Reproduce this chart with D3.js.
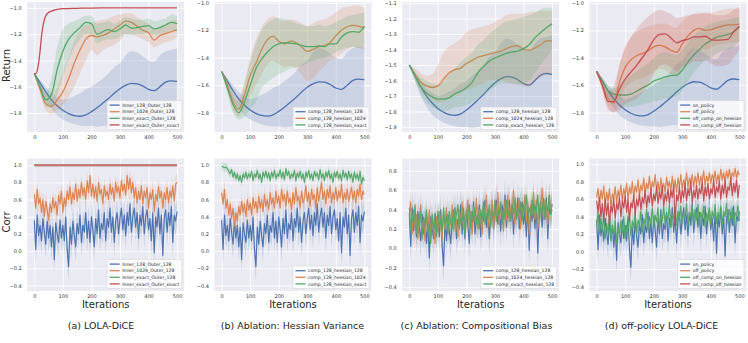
<!DOCTYPE html>
<html lang="en">
<head>
<meta charset="UTF-8">
<title>LOLA-DiCE ablations</title>
<script src="https://d3js.org/d3.v7.min.js"></script>
<style>
  body { margin: 0; background: #fff; }
  svg { display: block; font-family: "DejaVu Sans", sans-serif; }
  .leg-text { font-size: 4.6px; fill: #262626; }
  .axis-title { font-size: 10px; fill: #262626; }
  .caption { font-size: 9.5px; fill: #222; }
</style>
</head>
<body>
<script>
// ---- shared axes ----
const xTicks = [0, 100, 200, 300, 400, 500];
const retTicks = [-1.0, -1.2, -1.4, -1.6, -1.8];
const retTicksC = [-1.1, -1.2, -1.3, -1.4, -1.5, -1.6, -1.7, -1.8, -1.9];
const corrTicks = [-0.4, -0.2, 0.0, 0.2, 0.4, 0.6, 0.8, 1.0];
const corrTicksC = [-0.4, -0.2, 0.0, 0.2, 0.4, 0.6, 0.8];

const palette = ["#4c72b0", "#dd8452", "#55a868", "#c44e52"];

const labelsA = ["Inner_128_Outer_128", "Inner_1024_Outer_128", "Inner_exact_Outer_128", "Inner_exact_Outer_exact"];
const labelsB = ["comp_128_hessian_128", "comp_128_hessian_1024", "comp_128_hessian_exact"];
const labelsC = ["comp_128_hessian_128", "comp_1024_hessian_128", "comp_exact_hessian_128"];
const labelsD = ["on_policy", "off_policy", "off_comp_on_hessian", "on_comp_off_hessian"];
const captions = ["(a) LOLA-DiCE", "(b) Ablation: Hessian Variance", "(c) Ablation: Compositional Bias", "(d) off-policy LOLA-DiCE"];

// ---- return curves (every 20 iterations) ----
const iters = [0, 20, 40, 60, 80, 100, 120, 140, 160, 180, 200, 220, 240, 260, 280, 300, 320, 340, 360, 380, 400, 420, 440, 460, 480, 500];

const retBlue   = [-1.50,-1.57,-1.64,-1.70,-1.745,-1.78,-1.805,-1.82,-1.825,-1.815,-1.79,-1.76,-1.725,-1.69,-1.65,-1.615,-1.59,-1.575,-1.578,-1.595,-1.62,-1.63,-1.60,-1.565,-1.555,-1.56];
const retBlueLo = [-1.5,-1.6,-1.7,-1.77,-1.82,-1.85,-1.87,-1.885,-1.895,-1.9,-1.9,-1.905,-1.9,-1.895,-1.89,-1.885,-1.88,-1.885,-1.89,-1.9,-1.905,-1.9,-1.895,-1.89,-1.885,-1.89];
const retBlueHi = [-1.5,-1.55,-1.6,-1.65,-1.68,-1.7,-1.69,-1.67,-1.65,-1.62,-1.6,-1.57,-1.54,-1.5,-1.45,-1.42,-1.36,-1.33,-1.34,-1.37,-1.40,-1.41,-1.36,-1.33,-1.32,-1.31];

const retA1024   = [-1.5,-1.62,-1.73,-1.75,-1.70,-1.64,-1.54,-1.42,-1.32,-1.24,-1.21,-1.22,-1.21,-1.19,-1.16,-1.13,-1.10,-1.11,-1.14,-1.17,-1.19,-1.245,-1.21,-1.195,-1.18,-1.165];
const retA1024Lo = [-1.5,-1.65,-1.78,-1.81,-1.78,-1.74,-1.68,-1.6,-1.5,-1.4,-1.32,-1.36,-1.32,-1.3,-1.28,-1.25,-1.2,-1.2,-1.22,-1.24,-1.26,-1.3,-1.28,-1.26,-1.25,-1.22];
const retA1024Hi = [-1.5,-1.58,-1.66,-1.68,-1.6,-1.5,-1.38,-1.25,-1.17,-1.13,-1.12,-1.1,-1.09,-1.08,-1.06,-1.05,-1.04,-1.04,-1.07,-1.1,-1.12,-1.16,-1.14,-1.12,-1.1,-1.09];

const retAExact   = [-1.5,-1.6,-1.7,-1.66,-1.47,-1.33,-1.24,-1.19,-1.15,-1.11,-1.12,-1.2,-1.18,-1.165,-1.18,-1.16,-1.13,-1.155,-1.15,-1.14,-1.135,-1.16,-1.15,-1.13,-1.11,-1.12];
const retAExactLo = [-1.5,-1.63,-1.75,-1.76,-1.66,-1.52,-1.4,-1.3,-1.24,-1.2,-1.2,-1.27,-1.25,-1.24,-1.24,-1.22,-1.2,-1.21,-1.2,-1.2,-1.19,-1.21,-1.2,-1.19,-1.17,-1.18];
const retAExactHi = [-1.5,-1.57,-1.64,-1.54,-1.3,-1.16,-1.12,-1.1,-1.08,-1.06,-1.06,-1.12,-1.11,-1.1,-1.12,-1.1,-1.07,-1.08,-1.09,-1.09,-1.08,-1.1,-1.09,-1.08,-1.05,-1.06];

const redIters = [0, 5, 10, 15, 20, 25, 30, 35, 40, 50, 60, 80, 100, 150, 200, 300, 400, 500];
const retAExactExact = [-1.5,-1.5,-1.48,-1.42,-1.33,-1.22,-1.14,-1.09,-1.06,-1.035,-1.025,-1.012,-1.006,-1.003,-1.001,-1.0,-1.0,-1.0];

const retB1024   = [-1.5,-1.6,-1.72,-1.775,-1.67,-1.53,-1.44,-1.34,-1.27,-1.245,-1.28,-1.3,-1.28,-1.29,-1.32,-1.355,-1.34,-1.32,-1.31,-1.29,-1.24,-1.2,-1.175,-1.165,-1.17,-1.185];
const retB1024Lo = [-1.5,-1.64,-1.78,-1.83,-1.77,-1.68,-1.6,-1.52,-1.45,-1.42,-1.45,-1.47,-1.46,-1.48,-1.52,-1.57,-1.55,-1.5,-1.46,-1.42,-1.4,-1.37,-1.34,-1.32,-1.33,-1.34];
const retB1024Hi = [-1.5,-1.56,-1.65,-1.7,-1.57,-1.4,-1.27,-1.18,-1.12,-1.1,-1.12,-1.13,-1.12,-1.13,-1.15,-1.17,-1.15,-1.13,-1.12,-1.1,-1.07,-1.04,-1.03,-1.02,-1.02,-1.04];

const retBExact   = [-1.5,-1.62,-1.74,-1.8,-1.72,-1.6,-1.48,-1.41,-1.36,-1.32,-1.3,-1.29,-1.295,-1.3,-1.31,-1.32,-1.32,-1.315,-1.32,-1.3,-1.3,-1.25,-1.22,-1.21,-1.215,-1.17];
const retBExactLo = [-1.5,-1.66,-1.8,-1.85,-1.83,-1.77,-1.72,-1.62,-1.58,-1.55,-1.52,-1.5,-1.48,-1.47,-1.46,-1.44,-1.42,-1.41,-1.4,-1.38,-1.36,-1.34,-1.33,-1.32,-1.33,-1.3];
const retBExactHi = [-1.5,-1.58,-1.68,-1.72,-1.6,-1.43,-1.3,-1.2,-1.15,-1.12,-1.11,-1.12,-1.13,-1.15,-1.16,-1.17,-1.17,-1.16,-1.17,-1.16,-1.14,-1.12,-1.1,-1.09,-1.08,-1.07];

const retC1024   = [-1.5,-1.56,-1.61,-1.635,-1.645,-1.635,-1.59,-1.55,-1.53,-1.52,-1.49,-1.47,-1.45,-1.44,-1.43,-1.42,-1.41,-1.395,-1.38,-1.375,-1.4,-1.405,-1.39,-1.37,-1.345,-1.345];
const retC1024Lo = [-1.5,-1.6,-1.66,-1.7,-1.72,-1.74,-1.73,-1.72,-1.7,-1.68,-1.66,-1.65,-1.63,-1.62,-1.6,-1.6,-1.6,-1.61,-1.62,-1.62,-1.64,-1.64,-1.6,-1.58,-1.56,-1.55];
const retC1024Hi = [-1.5,-1.52,-1.55,-1.57,-1.56,-1.5,-1.42,-1.38,-1.36,-1.33,-1.29,-1.27,-1.26,-1.25,-1.24,-1.22,-1.2,-1.18,-1.17,-1.17,-1.17,-1.16,-1.16,-1.15,-1.15,-1.15];

const retCExact   = [-1.5,-1.57,-1.64,-1.68,-1.705,-1.72,-1.72,-1.71,-1.685,-1.67,-1.645,-1.61,-1.55,-1.51,-1.475,-1.455,-1.44,-1.425,-1.415,-1.41,-1.395,-1.37,-1.325,-1.29,-1.26,-1.235];
const retCExactLo = [-1.5,-1.6,-1.69,-1.74,-1.77,-1.79,-1.8,-1.79,-1.77,-1.77,-1.76,-1.74,-1.72,-1.69,-1.66,-1.64,-1.62,-1.62,-1.62,-1.63,-1.62,-1.6,-1.55,-1.5,-1.45,-1.4];
const retCExactHi = [-1.5,-1.54,-1.58,-1.6,-1.62,-1.63,-1.6,-1.56,-1.52,-1.48,-1.45,-1.42,-1.37,-1.34,-1.3,-1.27,-1.24,-1.22,-1.21,-1.2,-1.19,-1.18,-1.16,-1.14,-1.13,-1.13];

const retDOff   = [-1.5,-1.6,-1.7,-1.73,-1.58,-1.47,-1.415,-1.385,-1.37,-1.35,-1.32,-1.31,-1.32,-1.345,-1.36,-1.3,-1.24,-1.2,-1.185,-1.2,-1.195,-1.18,-1.17,-1.16,-1.16,-1.155];
const retDOffLo = [-1.5,-1.64,-1.76,-1.8,-1.7,-1.62,-1.58,-1.56,-1.55,-1.53,-1.5,-1.48,-1.49,-1.52,-1.54,-1.47,-1.4,-1.35,-1.33,-1.34,-1.33,-1.31,-1.3,-1.29,-1.29,-1.28];
const retDOffHi = [-1.5,-1.56,-1.64,-1.66,-1.45,-1.32,-1.25,-1.21,-1.19,-1.17,-1.16,-1.15,-1.15,-1.17,-1.18,-1.13,-1.1,-1.08,-1.07,-1.08,-1.07,-1.06,-1.05,-1.04,-1.04,-1.04];

const retDOffComp   = [-1.5,-1.57,-1.64,-1.665,-1.672,-1.672,-1.665,-1.645,-1.62,-1.6,-1.57,-1.555,-1.54,-1.53,-1.528,-1.49,-1.43,-1.38,-1.34,-1.3,-1.275,-1.25,-1.24,-1.23,-1.21,-1.175];
const retDOffCompLo = [-1.5,-1.6,-1.68,-1.72,-1.75,-1.76,-1.76,-1.75,-1.74,-1.73,-1.72,-1.71,-1.7,-1.69,-1.68,-1.64,-1.57,-1.51,-1.46,-1.42,-1.4,-1.37,-1.35,-1.34,-1.32,-1.28];
const retDOffCompHi = [-1.5,-1.55,-1.6,-1.62,-1.6,-1.56,-1.53,-1.5,-1.47,-1.44,-1.4,-1.37,-1.36,-1.37,-1.38,-1.34,-1.29,-1.24,-1.2,-1.17,-1.15,-1.14,-1.13,-1.12,-1.11,-1.1];

const retDOnComp   = [-1.5,-1.6,-1.72,-1.72,-1.63,-1.555,-1.505,-1.455,-1.4,-1.34,-1.27,-1.23,-1.225,-1.255,-1.29,-1.275,-1.265,-1.248,-1.248,-1.243,-1.265,-1.272,-1.27,-1.265,-1.21,-1.17];
const retDOnCompLo = [-1.5,-1.64,-1.78,-1.8,-1.78,-1.74,-1.72,-1.7,-1.66,-1.6,-1.52,-1.46,-1.45,-1.47,-1.5,-1.47,-1.45,-1.43,-1.43,-1.42,-1.44,-1.46,-1.46,-1.45,-1.4,-1.34];
const retDOnCompHi = [-1.5,-1.55,-1.64,-1.6,-1.45,-1.33,-1.25,-1.19,-1.14,-1.1,-1.07,-1.05,-1.06,-1.08,-1.11,-1.1,-1.09,-1.08,-1.08,-1.07,-1.08,-1.09,-1.09,-1.08,-1.05,-1.03];

// ---- correlation curves (every 5 iterations) ----
const corrIters = d3.range(0, 501, 5);

const corrBlue = [
  0.36,0.02,0.42,0.18,0.30,0.12,0.38,0.22,0.08,0.35,
  0.15,0.30,0.05,0.28,-0.10,0.33,0.20,0.10,0.36,0.15,
  0.30,0.12,0.40,0.02,-0.18,0.28,0.08,0.35,0.18,0.05,
  0.32,0.20,0.42,0.10,0.30,0.22,0.45,0.15,0.35,0.10,
  0.40,0.25,0.05,0.38,0.20,0.48,0.15,0.32,0.25,0.45,
  0.12,0.38,0.28,0.50,0.22,0.40,0.10,0.35,0.45,0.20,
  0.38,0.50,0.25,0.42,0.18,0.45,0.30,0.55,0.22,0.40,
  0.50,0.28,0.45,0.15,0.42,0.30,0.52,0.20,0.40,0.48,
  0.25,0.38,0.12,0.45,-0.02,0.40,0.28,0.50,0.20,0.42,
  -0.05,0.38,0.48,0.22,0.45,0.30,0.52,0.10,0.42,0.35,
  0.46];

const corrA1024 = [
  0.66,0.50,0.72,0.55,0.62,0.45,0.60,0.40,0.58,0.48,
  0.36,0.55,0.45,0.62,0.50,0.58,0.42,0.65,0.55,0.70,
  0.45,0.62,0.52,0.70,0.60,0.75,0.55,0.68,0.60,0.78,
  0.58,0.72,0.62,0.80,0.65,0.74,0.60,0.82,0.68,0.88,
  0.64,0.78,0.62,0.75,0.58,0.80,0.66,0.72,0.55,0.76,
  0.64,0.70,0.60,0.78,0.66,0.74,0.58,0.80,0.68,0.75,
  0.62,0.82,0.70,0.78,0.65,0.88,0.72,0.85,0.68,0.80,
  0.62,0.74,0.56,0.70,0.60,0.76,0.55,0.70,0.62,0.74,
  0.50,0.68,0.60,0.72,0.46,0.66,0.58,0.75,0.62,0.70,
  0.50,0.68,0.60,0.74,0.56,0.70,0.62,0.76,0.58,0.78,
  0.80];

// exact inner/outer gradients: correlation stays at 1
const corrExactIters = [0, 500];
const corrExact = [1.0, 1.0];

const corrB1024 = [
  0.68,0.55,0.72,0.50,0.60,0.42,0.55,0.38,0.50,0.30,
  0.45,0.35,0.52,0.42,0.58,0.45,0.55,0.40,0.60,0.48,
  0.56,0.42,0.62,0.50,0.58,0.45,0.64,0.50,0.60,0.46,
  0.66,0.52,0.60,0.48,0.68,0.55,0.62,0.50,0.70,0.56,
  0.64,0.50,0.72,0.58,0.66,0.52,0.70,0.56,0.62,0.48,
  0.68,0.55,0.74,0.58,0.64,0.50,0.70,0.56,0.62,0.76,
  0.58,0.68,0.52,0.72,0.60,0.66,0.50,0.74,0.58,0.68,
  0.80,0.60,0.70,0.55,0.72,0.62,0.76,0.56,0.68,0.60,
  0.74,0.58,0.70,0.62,0.78,0.56,0.68,0.60,0.72,0.58,
  0.66,0.74,0.60,0.70,0.56,0.72,0.64,0.78,0.60,0.70,
  0.66];

const corrBExact = [
  0.99,0.98,0.97,0.98,0.96,0.93,0.90,0.95,0.86,0.92,
  0.84,0.90,0.82,0.88,0.80,0.90,0.85,0.92,0.84,0.90,
  0.86,0.93,0.82,0.90,0.86,0.94,0.84,0.90,0.80,0.92,
  0.86,0.93,0.85,0.91,0.82,0.92,0.86,0.94,0.84,0.90,
  0.87,0.95,0.85,0.92,0.83,0.96,0.88,0.93,0.84,0.90,
  0.86,0.94,0.82,0.91,0.86,0.93,0.84,0.90,0.80,0.92,
  0.86,0.94,0.84,0.90,0.82,0.93,0.87,0.91,0.83,0.95,
  0.85,0.90,0.82,0.92,0.86,0.94,0.84,0.90,0.80,0.92,
  0.86,0.93,0.84,0.90,0.82,0.94,0.86,0.91,0.83,0.93,
  0.85,0.90,0.80,0.92,0.84,0.90,0.82,0.93,0.78,0.86,
  0.82];

const corrC1024 = [
  0.30,0.48,0.15,0.40,0.22,0.35,0.10,0.32,0.45,0.18,
  0.28,0.08,0.35,0.20,0.40,0.12,0.30,0.22,0.05,0.33,
  0.18,0.38,0.25,0.10,0.35,0.20,0.42,0.15,0.30,0.24,
  0.45,0.18,0.36,0.28,0.12,0.40,0.25,0.48,0.20,0.35,
  0.30,0.50,0.22,0.38,0.15,0.42,0.28,0.52,0.20,0.40,
  0.30,0.15,0.45,0.28,0.55,0.22,0.38,0.32,0.50,0.20,
  0.42,0.30,0.58,0.25,0.45,0.35,0.18,0.50,0.30,0.55,
  0.28,0.42,0.35,0.60,0.25,0.45,0.32,0.52,0.20,0.42,
  0.38,0.55,0.28,0.48,0.15,0.45,0.35,0.58,0.30,0.50,
  0.22,0.45,0.40,0.62,0.30,0.50,0.42,0.25,0.55,0.38,
  0.45];

const corrCExact = [
  0.42,0.20,0.35,0.25,0.45,0.15,0.30,0.22,0.38,0.10,
  0.32,0.25,0.40,0.15,0.28,0.05,0.35,0.20,0.30,0.12,
  0.38,0.22,0.30,0.18,0.42,0.25,0.32,0.15,0.38,0.28,
  0.20,0.40,0.25,0.35,0.45,0.20,0.32,0.28,0.42,0.15,
  0.35,0.30,0.45,0.22,0.38,0.28,0.42,0.25,0.35,0.20,
  0.40,0.30,0.48,0.25,0.36,0.30,0.45,0.22,0.38,0.32,
  0.50,0.28,0.40,0.35,0.48,0.25,0.42,0.30,0.50,0.32,
  0.40,0.28,0.46,0.35,0.52,0.30,0.42,0.36,0.48,0.28,
  0.45,0.38,0.55,0.30,0.42,0.35,0.50,0.32,0.45,0.38,
  0.55,0.30,0.42,0.36,0.52,0.32,0.46,0.38,0.55,0.35,
  0.40];

const corrDOff = [
  0.62,0.72,0.55,0.70,0.60,0.75,0.52,0.68,0.58,0.72,
  0.50,0.66,0.60,0.74,0.56,0.70,0.62,0.76,0.58,0.72,
  0.64,0.78,0.60,0.74,0.66,0.80,0.62,0.75,0.68,0.82,
  0.64,0.76,0.70,0.84,0.66,0.78,0.72,0.86,0.68,0.80,
  0.74,0.88,0.70,0.80,0.66,0.84,0.72,0.78,0.68,0.85,
  0.74,0.80,0.70,0.86,0.72,0.82,0.68,0.84,0.74,0.88,
  0.72,0.82,0.76,0.90,0.74,0.84,0.78,0.88,0.74,0.86,
  0.78,0.90,0.76,0.86,0.80,0.92,0.76,0.86,0.80,0.90,
  0.78,0.88,0.82,0.92,0.78,0.88,0.80,0.94,0.82,0.90,
  0.80,0.92,0.84,0.94,0.82,0.90,0.86,0.95,0.84,0.92,
  0.88];

const corrDOffComp = [
  0.30,0.45,0.20,0.38,0.25,0.42,0.15,0.32,0.22,0.40,
  0.12,0.30,0.20,0.36,0.10,0.28,0.18,0.35,0.22,0.40,
  0.15,0.30,0.25,0.42,0.18,0.35,0.28,0.45,0.20,0.36,
  0.30,0.46,0.22,0.38,0.30,0.48,0.25,0.40,0.32,0.50,
  0.28,0.42,0.34,0.50,0.26,0.40,0.35,0.52,0.30,0.44,
  0.36,0.54,0.28,0.42,0.38,0.50,0.30,0.46,0.36,0.52,
  0.32,0.45,0.38,0.55,0.30,0.44,0.40,0.52,0.32,0.48,
  0.36,0.54,0.30,0.45,0.38,0.52,0.28,0.44,0.36,0.50,
  0.30,0.46,0.38,0.54,0.32,0.45,0.36,0.52,0.30,0.46,
  0.40,0.55,0.32,0.48,0.38,0.50,0.30,0.45,0.40,0.52,
  0.35];

const corrDOnComp = [
  0.58,0.45,0.62,0.40,0.55,0.35,0.60,0.42,0.56,0.30,
  0.52,0.45,0.60,0.38,0.55,0.48,0.62,0.40,0.58,0.50,
  0.64,0.45,0.60,0.35,0.56,0.50,0.65,0.42,0.60,0.52,
  0.66,0.48,0.62,0.55,0.70,0.50,0.64,0.56,0.72,0.52,
  0.66,0.58,0.74,0.55,0.68,0.60,0.75,0.52,0.66,0.58,
  0.72,0.55,0.70,0.62,0.76,0.30,0.65,0.58,0.74,0.56,
  0.70,0.62,0.78,0.58,0.72,0.64,0.80,0.56,0.70,0.62,
  0.76,0.60,0.72,0.66,0.80,0.58,0.74,0.64,0.78,0.60,
  0.72,0.66,0.82,0.62,0.74,0.68,0.80,0.60,0.76,0.66,
  0.82,0.62,0.74,0.70,0.84,0.64,0.78,0.68,0.82,0.62,
  0.76];

// half-width of the shaded spread around each correlation curve
const spreadBlue = 0.17, spreadA1024 = 0.1, spreadB1024 = 0.1, spreadBExact = 0.05;
const spreadC1024 = 0.13, spreadCExact = 0.13;
const spreadDOff = 0.06, spreadDOffComp = 0.12, spreadDOnComp = 0.08;

// ---- layout ----
const width = 748, height = 343;
const colLeft = [27.2, 214.5, 402.2, 589.5];
const plotW = 157;
const rowTop = [2, 158.5];
const rowH = [130, 132.5];

const svg = d3.select("body").append("svg")
    .attr("width", width)
    .attr("height", height);
const defs = svg.append("defs");

function ret(xs, ys, lo, hi, color) {
    return { xs, ys, lo: lo || ys, hi: hi || ys, color, lw: 1.3, curve: d3.curveMonotoneX };
}
function corr(xs, ys, spread, color, lw) {
    return {
        xs, ys, color, lw: lw || 1.15, curve: d3.curveLinear,
        lo: ys.map(v => v - spread), hi: ys.map(v => v + spread)
    };
}

function drawPanel(id, col, row, yDomain, yTicks, series, labels) {
    const w = plotW, h = rowH[row];
    const g = svg.append("g")
        .attr("transform", `translate(${colLeft[col]},${rowTop[row]})`);

    const x = d3.scaleLinear().domain([-25, 525]).range([0, w]);
    const y = d3.scaleLinear().domain(yDomain).range([h, 0]);

    g.append("rect").attr("width", w).attr("height", h).attr("fill", "#eaeaf2");

    // axes double as the white grid
    const xAxis = g.append("g")
        .attr("transform", `translate(0,${h})`)
        .call(d3.axisBottom(x).tickValues(xTicks).tickSize(-h).tickPadding(3.3).tickFormat(d3.format("d")));
    const yAxis = g.append("g")
        .call(d3.axisLeft(y).tickValues(yTicks).tickSize(-w).tickPadding(5.5).tickFormat(d3.format(".1f")));
    [xAxis, yAxis].forEach(a => {
        a.attr("font-family", "DejaVu Sans").attr("font-size", 5);
        a.select(".domain").remove();
        a.selectAll("line").attr("stroke", "#fff").attr("stroke-width", 0.8);
        a.selectAll("text").attr("fill", "#333");
    });

    defs.append("clipPath").attr("id", "clip" + id)
        .append("rect").attr("width", w).attr("height", h);
    const plot = g.append("g").attr("clip-path", `url(#clip${id})`);

    series.forEach(s => {
        const pts = s.xs.map((xv, i) => ({ x: xv, m: s.ys[i], lo: s.lo[i], hi: s.hi[i] }));
        plot.append("path")
            .datum(pts)
            .attr("fill", s.color)
            .attr("fill-opacity", 0.2)
            .attr("d", d3.area().curve(s.curve).x(d => x(d.x)).y0(d => y(d.lo)).y1(d => y(d.hi)));
        plot.append("path")
            .datum(pts)
            .attr("fill", "none")
            .attr("stroke", s.color)
            .attr("stroke-width", s.lw)
            .attr("stroke-linejoin", "round")
            .attr("d", d3.line().curve(s.curve).x(d => x(d.x)).y(d => y(d.m)));
    });

    // legend, lower right
    const rowStep = 6.6;
    const lg = g.append("g");
    const box = lg.append("rect");
    const texts = lg.selectAll("text").data(labels).join("text")
        .attr("class", "leg-text")
        .attr("dy", "0.35em")
        .text(d => d);
    let maxW = 0;
    texts.each(function () { maxW = Math.max(maxW, this.getComputedTextLength()); });
    const boxW = 2.5 + 10 + 2.5 + maxW + 2.5;
    const boxH = labels.length * rowStep + 2.6;
    const bx = w - 2.5 - boxW, by = h - 2.5 - boxH;
    box.attr("x", bx).attr("y", by).attr("width", boxW).attr("height", boxH)
        .attr("rx", 1.2)
        .attr("fill", "#fff").attr("fill-opacity", 0.8)
        .attr("stroke", "#d0d0d0").attr("stroke-width", 0.5);
    const cy = i => by + 1.3 + rowStep * (i + 0.5);
    texts.attr("x", bx + 15).attr("y", (d, i) => cy(i));
    lg.selectAll("line").data(labels).join("line")
        .attr("x1", bx + 2.5).attr("x2", bx + 12.5)
        .attr("y1", (d, i) => cy(i)).attr("y2", (d, i) => cy(i))
        .attr("stroke", (d, i) => palette[i])
        .attr("stroke-width", 1.3);
}

// ---- top row: return ----
drawPanel("ra", 0, 0, [-1.945, -0.955], retTicks, [
    ret(iters, retBlue, retBlueLo, retBlueHi, palette[0]),
    ret(iters, retA1024, retA1024Lo, retA1024Hi, palette[1]),
    ret(iters, retAExact, retAExactLo, retAExactHi, palette[2]),
    ret(redIters, retAExactExact, null, null, palette[3])
], labelsA);

drawPanel("rb", 1, 0, [-1.94, -0.995], retTicks, [
    ret(iters, retBlue, retBlueLo, retBlueHi, palette[0]),
    ret(iters, retB1024, retB1024Lo, retB1024Hi, palette[1]),
    ret(iters, retBExact, retBExactLo, retBExactHi, palette[2])
], labelsB);

drawPanel("rc", 2, 0, [-1.932, -1.094], retTicksC, [
    ret(iters, retBlue, retBlueLo, retBlueHi, palette[0]),
    ret(iters, retC1024, retC1024Lo, retC1024Hi, palette[1]),
    ret(iters, retCExact, retCExactLo, retCExactHi, palette[2])
], labelsC);

drawPanel("rd", 3, 0, [-1.942, -0.993], retTicks, [
    ret(iters, retBlue, retBlueLo, retBlueHi, palette[0]),
    ret(iters, retDOff, retDOffLo, retDOffHi, palette[1]),
    ret(iters, retDOffComp, retDOffCompLo, retDOffCompHi, palette[2]),
    ret(iters, retDOnComp, retDOnCompLo, retDOnCompHi, palette[3])
], labelsD);

// ---- bottom row: correlation ----
drawPanel("ca", 0, 1, [-0.464, 1.078], corrTicks, [
    corr(corrIters, corrBlue, spreadBlue, palette[0]),
    corr(corrIters, corrA1024, spreadA1024, palette[1]),
    corr(corrExactIters, corrExact, 0, palette[2], 2),
    corr(corrExactIters, corrExact, 0, "#d07275", 2)
], labelsA);

drawPanel("cb", 1, 1, [-0.464, 1.078], corrTicks, [
    corr(corrIters, corrBlue, spreadBlue, palette[0]),
    corr(corrIters, corrB1024, spreadB1024, palette[1]),
    corr(corrIters, corrBExact, spreadBExact, palette[2])
], labelsB);

drawPanel("cc", 2, 1, [-0.44, 0.928], corrTicksC, [
    corr(corrIters, corrBlue, spreadBlue, palette[0]),
    corr(corrIters, corrC1024, spreadC1024, palette[1]),
    corr(corrIters, corrCExact, spreadCExact, palette[2])
], labelsC);

drawPanel("cd", 3, 1, [-0.452, 1.065], corrTicks, [
    corr(corrIters, corrBlue, spreadBlue, palette[0]),
    corr(corrIters, corrDOff, spreadDOff, palette[1]),
    corr(corrIters, corrDOffComp, spreadDOffComp, palette[2]),
    corr(corrIters, corrDOnComp, spreadDOnComp, palette[3])
], labelsD);

// ---- axis titles and captions ----
svg.append("text").attr("class", "axis-title")
    .attr("transform", "translate(10,65.5) rotate(-90)")
    .attr("text-anchor", "middle").text("Return");
svg.append("text").attr("class", "axis-title")
    .attr("transform", "translate(10,222) rotate(-90)")
    .attr("text-anchor", "middle").text("Corr");

svg.selectAll(".xlab").data(colLeft).join("text")
    .attr("class", "axis-title")
    .attr("x", d => d + plotW / 2)
    .attr("y", 308)
    .attr("text-anchor", "middle")
    .text("Iterations");

const captionX = [101, 292.5, 476.5, 661.5];
svg.selectAll(".caption").data(captions).join("text")
    .attr("class", "caption")
    .attr("x", (d, i) => captionX[i])
    .attr("y", 329)
    .attr("text-anchor", "middle")
    .text(d => d);
</script>
</body>
</html>
